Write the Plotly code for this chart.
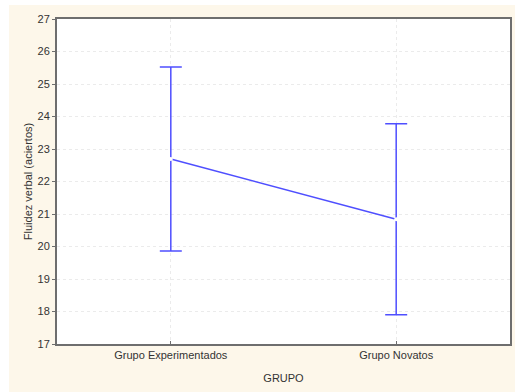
import plotly.graph_objects as go

grupos = ["Grupo Experimentados", "Grupo Novatos"]
medias = [22.69, 20.84]
errores = [2.83, 2.94]
y_ticks = [17, 18, 19, 20, 21, 22, 23, 24, 25, 26, 27]

BLUE = "#4f4fff"
CREAM = "#fdf7ea"
AXIS = "#6e6e6e"
FONT = "Liberation Sans, Arial, sans-serif"

fig = go.Figure()
fig.add_trace(go.Scatter(
    x=grupos, y=medias,
    mode="lines+markers",
    line=dict(color=BLUE, width=1.5),
    marker=dict(size=4, color="white", line=dict(width=0)),
    error_y=dict(type="data", array=errores, visible=True,
                 color=BLUE, thickness=1.5, width=11),
    showlegend=False,
))

# white frame strips (left and top) outside the cream background
fig.add_shape(type="rect", xref="paper", yref="paper",
              x0=-0.13, x1=-0.106, y0=-0.2, y1=1.1,
              fillcolor="white", line=dict(width=0), layer="above")
fig.add_shape(type="rect", xref="paper", yref="paper",
              x0=-0.13, x1=1.02, y0=1.043, y1=1.1,
              fillcolor="white", line=dict(width=0), layer="above")

fig.update_layout(
    width=515, height=392,
    margin=dict(l=57, r=3, t=19, b=48),
    paper_bgcolor=CREAM,
    plot_bgcolor="white",
    font=dict(family=FONT, size=11, color="#333333"),
    xaxis=dict(
        type="category",
        range=[-0.505, 1.505],
        showline=True, linecolor=AXIS, linewidth=2, mirror=True,
        showgrid=True, gridcolor="#ebebeb", griddash="dot", gridwidth=1,
        ticks="inside", ticklen=3, tickcolor=AXIS,
        tickfont=dict(size=11, color="#333333"),
        title=dict(text="GRUPO", font=dict(size=11, color="#333333"), standoff=14),
        zeroline=False,
    ),
    yaxis=dict(
        range=[17, 27],
        tickvals=y_ticks,
        showline=True, linecolor=AXIS, linewidth=2, mirror=True,
        showgrid=True, gridcolor="#ebebeb", griddash="dot", gridwidth=1,
        ticks="outside", ticklen=3, tickcolor=AXIS,
        tickfont=dict(size=11, color="#333333"),
        title=dict(text="Fluidez verbal (aciertos)", font=dict(size=11, color="#333333"), standoff=3),
        zeroline=False,
    ),
)

fig.write_html("out.html")
